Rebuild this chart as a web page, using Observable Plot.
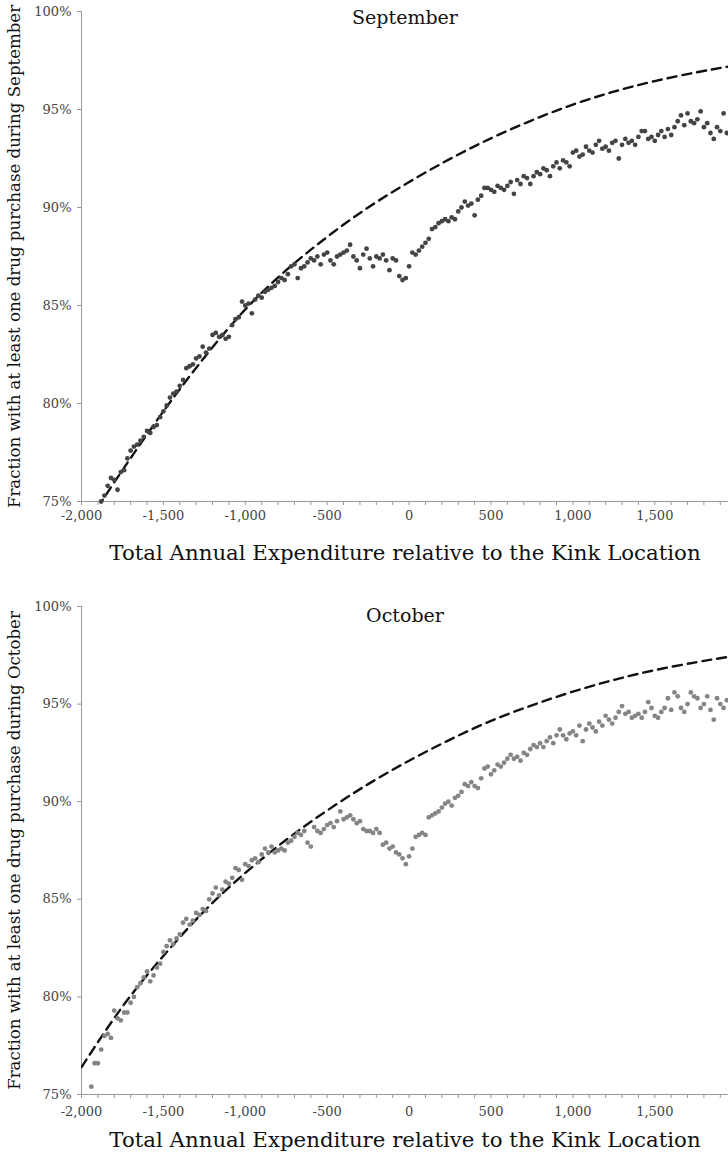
<!DOCTYPE html>
<html>
<head>
<meta charset="utf-8">
<script src="https://cdn.jsdelivr.net/npm/d3@7"></script>
<script src="https://cdn.jsdelivr.net/npm/@observablehq/plot@0.6"></script>
<style>
  html, body { margin: 0; padding: 0; background: #fff; }
  #chart { width: 728px; height: 1159px; overflow: hidden; }
  #chart svg { display: block; }
</style>
</head>
<body>
<div id="chart"></div>
<script>
// ---------- DATA ----------
const panelTitles = ["September", "October"];
const yLabels = [
  "Fraction with at least one drug purchase during September",
  "Fraction with at least one drug purchase during October"
];
const xTitle = "Total Annual Expenditure relative to the Kink Location";
const xTicks = [-2000,-1900,-1800,-1700,-1600,-1500,-1400,-1300,-1200,-1100,-1000,-900,-800,-700,-600,-500,-400,-300,-200,-100,0,100,200,300,400,500,600,700,800,900,1000,1100,1200,1300,1400,1500,1600,1700,1800,1900];
const xLabelled = [-2000,-1500,-1000,-500,0,500,1000,1500,2000];
const yTicks = [75, 80, 85, 90, 95, 100];

// September binned points [expenditure relative to kink, % with purchase]
const septPoints = [
[-1880,75.0],[-1860,75.3],[-1840,75.8],[-1820,76.2],[-1800,76.1],[-1780,75.6],[-1760,76.5],[-1740,76.6],[-1720,77.2],[-1700,77.6],
[-1680,77.8],[-1660,77.9],[-1640,78.1],[-1620,78.3],[-1600,78.6],[-1580,78.5],[-1560,78.8],[-1540,78.9],[-1520,79.3],[-1500,79.6],
[-1480,79.9],[-1460,80.3],[-1440,80.5],[-1420,80.6],[-1400,80.9],[-1380,81.2],[-1360,81.8],[-1340,81.9],[-1320,82.0],[-1300,82.3],
[-1280,82.4],[-1260,82.9],[-1240,82.6],[-1220,82.8],[-1200,83.5],[-1180,83.6],[-1160,83.4],[-1140,83.5],[-1120,83.3],[-1100,83.4],
[-1080,84.0],[-1060,84.3],[-1040,84.4],[-1020,85.2],[-1000,85.0],[-980,85.1],[-960,84.6],[-940,85.3],[-920,85.5],[-900,85.4],
[-880,85.7],[-860,85.8],[-840,85.9],[-820,86.0],[-800,86.2],[-780,86.4],[-760,86.3],[-740,86.6],[-720,87.0],[-700,87.1],
[-680,86.4],[-660,86.9],[-640,87.0],[-620,87.2],[-600,87.4],[-580,87.3],[-560,87.5],[-540,87.1],[-520,87.6],[-500,87.7],
[-480,87.3],[-460,87.1],[-440,87.5],[-420,87.6],[-400,87.7],[-380,87.8],[-360,88.1],[-340,87.5],[-320,87.3],[-300,86.9],
[-280,87.6],[-260,87.9],[-240,87.4],[-220,87.0],[-200,87.5],[-180,87.4],[-160,87.6],[-140,87.3],[-120,86.8],[-100,87.4],
[-80,87.3],[-60,86.5],[-40,86.3],[-20,86.4],[0,87.0],[20,87.7],[40,87.6],[60,87.8],[80,88.0],[100,88.2],
[120,88.4],[140,88.9],[160,89.0],[180,89.2],[200,89.3],[220,89.4],[240,89.3],[260,89.5],[280,89.4],[300,89.8],
[320,90.0],[340,90.3],[360,90.1],[380,90.2],[400,89.6],[420,90.4],[440,90.6],[460,91.0],[480,91.0],[500,90.9],
[520,90.8],[540,91.1],[560,91.0],[580,90.9],[600,91.1],[620,91.3],[640,90.7],[660,91.4],[680,91.2],[700,91.6],
[720,91.5],[740,91.2],[760,91.6],[780,91.8],[800,91.7],[820,92.0],[840,91.9],[860,91.6],[880,92.1],[900,92.3],
[920,92.0],[940,92.4],[960,92.3],[980,92.1],[1000,92.8],[1020,92.9],[1040,92.6],[1060,92.7],[1080,93.1],[1100,92.9],
[1120,92.8],[1140,93.2],[1160,93.4],[1180,93.0],[1200,93.1],[1220,92.9],[1240,93.3],[1260,93.4],[1280,92.5],[1300,93.2],
[1320,93.5],[1340,93.3],[1360,93.4],[1380,93.2],[1400,93.6],[1420,93.9],[1440,93.9],[1460,93.5],[1480,93.6],[1500,93.4],
[1520,93.7],[1540,93.9],[1560,93.6],[1580,94.0],[1600,93.7],[1620,94.1],[1640,94.4],[1660,94.7],[1680,94.2],[1700,94.8],
[1720,94.4],[1740,94.3],[1760,94.5],[1780,94.9],[1800,94.1],[1820,94.3],[1840,93.8],[1860,93.5],[1880,94.1],[1900,93.9],
[1920,94.8],[1940,93.8]
];

// September counterfactual (dashed) curve
const septCurve = [
[-1900,74.7],[-1750,76.6],[-1500,79.6],[-1250,82.35],[-1000,84.8],[-750,86.8],[-500,88.5],[-250,90.0],
[0,91.3],[250,92.48],[500,93.53],[750,94.45],[1000,95.25],[1250,95.91],[1500,96.45],[1750,96.89],[1950,97.19]
];

// October binned points
const octPoints = [
[-1940,75.4],[-1920,76.6],[-1900,76.6],[-1880,77.3],[-1860,78.0],[-1840,78.1],[-1820,77.9],[-1800,79.3],[-1780,78.9],[-1760,78.8],
[-1740,79.2],[-1720,79.2],[-1700,79.7],[-1680,80.0],[-1660,80.5],[-1640,80.7],[-1620,81.0],[-1600,81.3],[-1580,80.8],[-1560,81.1],
[-1540,81.5],[-1520,81.7],[-1500,82.3],[-1480,82.6],[-1460,82.9],[-1440,82.7],[-1420,83.0],[-1400,83.2],[-1380,83.8],[-1360,84.0],
[-1340,83.7],[-1320,83.9],[-1300,84.3],[-1280,84.2],[-1260,84.5],[-1240,84.4],[-1220,85.0],[-1200,85.3],[-1180,85.6],[-1160,85.2],
[-1140,85.5],[-1120,85.9],[-1100,85.8],[-1080,86.1],[-1060,86.6],[-1040,86.5],[-1020,86.0],[-1000,86.8],[-980,86.7],[-960,87.0],
[-940,87.1],[-920,86.9],[-900,87.3],[-880,87.6],[-860,87.4],[-840,87.7],[-820,87.4],[-800,87.5],[-780,87.6],[-760,87.5],
[-740,87.9],[-720,88.0],[-700,88.2],[-680,88.4],[-660,88.3],[-640,88.5],[-620,87.9],[-600,87.7],[-580,88.7],[-560,88.5],
[-540,88.4],[-520,88.6],[-500,88.8],[-480,88.9],[-460,88.7],[-440,89.0],[-420,89.5],[-400,89.1],[-380,89.2],[-360,89.3],
[-340,89.1],[-320,88.9],[-300,89.0],[-280,88.6],[-260,88.5],[-240,88.5],[-220,88.4],[-200,88.6],[-180,88.4],[-160,87.8],
[-140,87.9],[-120,87.6],[-100,87.7],[-80,87.4],[-60,87.3],[-40,87.1],[-20,86.8],[0,87.2],[20,87.6],[40,88.2],
[60,88.3],[80,88.4],[100,88.3],[120,89.2],[140,89.3],[160,89.4],[180,89.5],[200,89.7],[220,89.9],[240,90.0],
[260,89.8],[280,90.2],[300,90.3],[320,90.5],[340,90.9],[360,90.8],[380,91.0],[400,90.8],[420,90.7],[440,91.2],
[460,91.7],[480,91.8],[500,91.4],[520,91.6],[540,91.9],[560,91.8],[580,92.0],[600,92.2],[620,92.4],[640,92.2],
[660,92.3],[680,92.1],[700,92.5],[720,92.4],[740,92.7],[760,92.9],[780,92.8],[800,93.0],[820,92.8],[840,93.1],
[860,93.3],[880,93.0],[900,93.4],[920,93.7],[940,93.4],[960,93.2],[980,93.5],[1000,93.6],[1020,93.4],[1040,93.9],
[1060,93.1],[1080,93.7],[1100,94.0],[1120,93.8],[1140,93.6],[1160,94.1],[1180,93.9],[1200,94.4],[1220,94.2],[1240,94.0],
[1260,94.3],[1280,94.6],[1300,94.9],[1320,94.5],[1340,94.6],[1360,94.3],[1380,94.4],[1400,94.5],[1420,94.3],[1440,94.6],
[1460,95.1],[1480,94.8],[1500,94.4],[1520,94.3],[1540,94.6],[1560,94.8],[1580,95.3],[1600,94.7],[1620,95.6],[1640,95.4],
[1660,94.8],[1680,94.6],[1700,95.0],[1720,95.6],[1740,95.4],[1760,95.3],[1780,94.8],[1800,95.0],[1820,95.4],[1840,94.7],
[1860,94.2],[1880,95.3],[1900,95.0],[1920,94.8],[1940,95.2]
];

// October counterfactual (dashed) curve
const octCurve = [
[-2000,76.4],[-1750,79.5],[-1500,82.1],[-1250,84.4],[-1000,86.35],[-750,88.05],[-500,89.55],[-250,90.9],
[0,92.1],[250,93.18],[500,94.14],[750,94.94],[1000,95.64],[1250,96.24],[1500,96.74],[1750,97.14],[1950,97.42]
];

// ---------- DRAW ----------
const FONT = "'DejaVu Serif', 'Liberation Serif', serif";
const fmtX = d => xLabelled.includes(d) ? (d < 0 ? "-" : "") + d3.format(",")(Math.abs(d)) : "";

function panel({points, curve, title, ylabel, height, marginTop, marginBottom, dotFill, titleDy, xTitleDy, tickPad}) {
  return Plot.plot({
    width: 728,
    height,
    marginLeft: 81,
    marginRight: 0,
    marginTop,
    marginBottom,
    style: {fontFamily: FONT, background: "#fff", color: "#333"},
    x: {domain: [-2000, 1950], axis: null},
    y: {domain: [75, 100], axis: null},
    marks: [
      Plot.frame({anchor: "left", stroke: "#999"}),
      Plot.frame({anchor: "bottom", stroke: "#999"}),
      Plot.axisY({ticks: yTicks, tickFormat: d => d + "%", tickSize: 4, tickPadding: 6, stroke: "#999", fill: "#444", fontSize: 13, label: null}),
      Plot.axisX({ticks: xTicks, tickFormat: fmtX, tickSize: 4, tickPadding: tickPad, stroke: "#999", fill: "#444", fontSize: 13, label: null}),
      Plot.line(curve, {x: d => d[0], y: d => d[1], curve: "natural", stroke: "#111", strokeWidth: 2.4, strokeDasharray: "9,6", clip: true}),
      Plot.dot(points, {x: d => d[0], y: d => d[1], r: 2.4, fill: dotFill, stroke: "none"}),
      Plot.text([title], {frameAnchor: "top", lineAnchor: "middle", dy: titleDy, fontSize: 19, fill: "#111"}),
      Plot.text([ylabel], {frameAnchor: "left", textAnchor: "middle", lineAnchor: "middle", rotate: -90, dx: -67, fontSize: 16.6, fill: "#111"}),
      Plot.text([xTitle], {frameAnchor: "bottom", lineAnchor: "middle", dy: xTitleDy, fontSize: 21.3, fill: "#111"})
    ]
  });
}

const chart = document.getElementById("chart");
chart.appendChild(panel({
  points: septPoints, curve: septCurve, title: panelTitles[0], ylabel: yLabels[0],
  height: 580, marginTop: 11, marginBottom: 79, dotFill: "#444444", titleDy: 6, xTitleDy: 52, tickPad: 5
}));
chart.appendChild(panel({
  points: octPoints, curve: octCurve, title: panelTitles[1], ylabel: yLabels[1],
  height: 579, marginTop: 26, marginBottom: 65, dotFill: "#858585", titleDy: 9, xTitleDy: 46, tickPad: 8
}));
</script>
</body>
</html>
